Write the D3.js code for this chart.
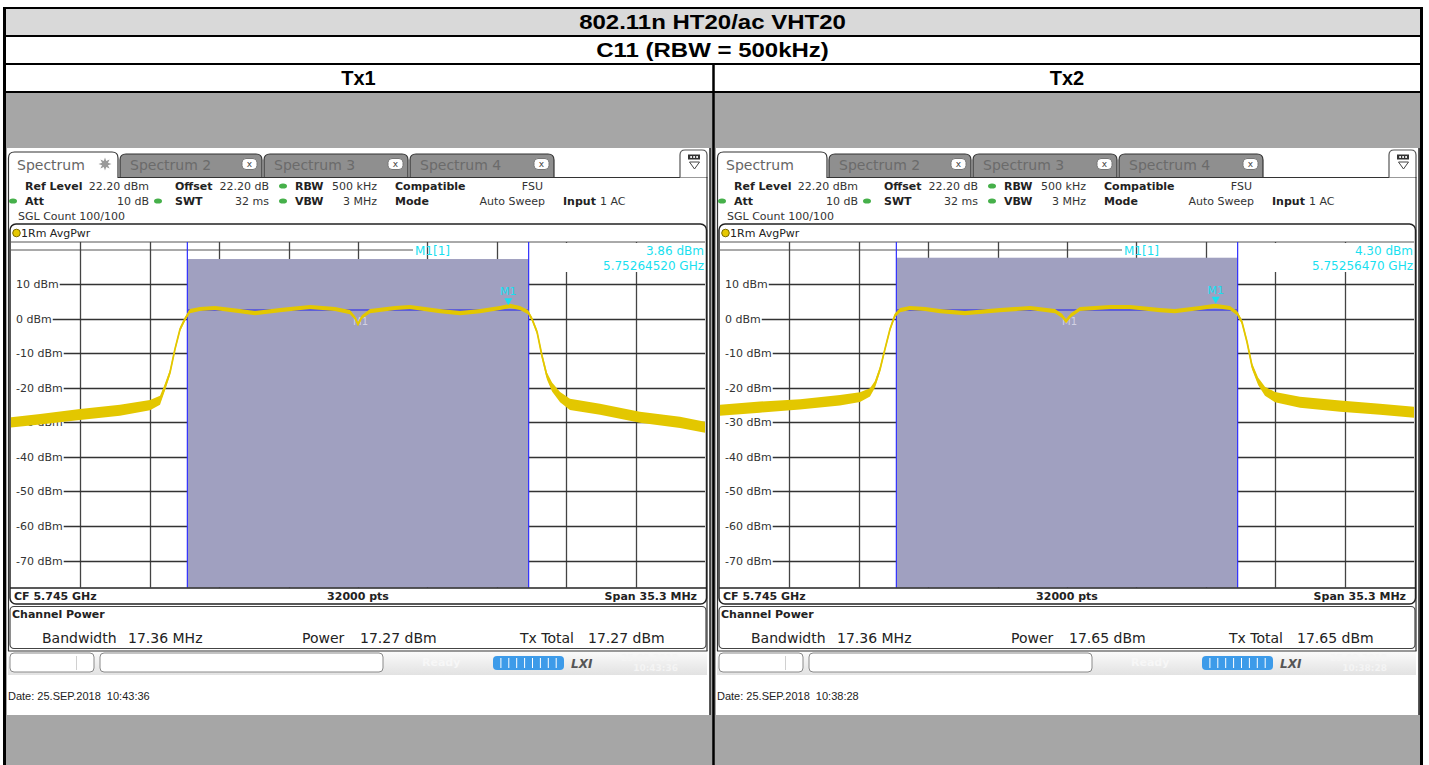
<!DOCTYPE html>
<html>
<head>
<meta charset="utf-8">
<script src="https://cdn.jsdelivr.net/npm/d3@7"></script>
<style>
body { margin: 0; background: #fff; }
svg { display: block; }
text { white-space: pre; }
</style>
</head>
<body>
<svg id="chart" width="1429" height="765"></svg>
<script>
// table headings
var title = "802.11n HT20/ac VHT20";
var subtitle = "C11 (RBW = 500kHz)";
var panelNames = ["Tx1", "Tx2"];

// analyzer settings
var refLevel = 22.2;      // dBm, top of grid
var spanMHz = 35.3;
var cfText = "CF 5.745 GHz";
var cfGHz = 5.745;
var chanBW = 17.36;       // MHz
var yTicks = [10, 0, -10, -20, -30, -40, -50, -60, -70];

// traces: offset from CF (MHz), level (dBm), noise half-width (dB)
var tx1Freq = [-17.65, -16.17, -14.14, -12.11, -10.58, -10.07, -9.82, -9.56, -9.31, -9.05, -8.80, -8.55, -8.04, -7.28, -6.00, -5.24, -3.97, -2.44, -1.17, -0.41, -0.15, 0.00, 0.20, 0.61, 1.88, 2.64, 4.17, 5.19, 6.21, 7.22, 7.73, 8.24, 8.65, 8.85, 9.11, 9.36, 9.61, 9.87, 10.28, 10.78, 12.31, 14.34, 16.38, 17.65];
var tx1Level = [-30.0, -29.1, -27.7, -26.5, -25.0, -23.6, -19.8, -15.5, -8.8, -3.0, -0.1, 2.2, 2.8, 3.1, 2.2, 1.6, 2.5, 3.4, 2.8, 1.9, 0.2, -1.6, 0.5, 2.2, 3.1, 3.4, 2.2, 1.6, 2.2, 3.1, 3.7, 3.1, 1.9, -0.1, -3.9, -10.8, -16.6, -19.8, -22.7, -24.8, -26.2, -28.5, -30.0, -31.4];
var tx1Spread = [1.5, 1.5, 1.6, 1.6, 1.5, 1.3, 1.0, 0.8, 0.6, 0.6, 0.6, 0.6, 0.6, 0.6, 0.6, 0.6, 0.6, 0.6, 0.6, 0.6, 0.5, 0.5, 0.5, 0.6, 0.6, 0.6, 0.6, 0.6, 0.6, 0.6, 0.6, 0.6, 0.6, 0.6, 0.7, 0.8, 1.0, 1.3, 1.5, 1.6, 1.6, 1.6, 1.6, 1.6];

var tx2Freq = [-17.65, -15.62, -13.58, -11.55, -10.53, -10.02, -9.77, -9.51, -9.26, -9.00, -8.75, -8.49, -7.99, -7.22, -6.46, -5.19, -3.41, -1.88, -0.61, -0.25, -0.05, 0.20, 0.66, 2.19, 3.20, 4.73, 5.49, 6.76, 7.53, 8.29, 8.65, 8.90, 9.16, 9.41, 9.72, 10.07, 10.58, 11.85, 13.89, 15.92, 17.65];
var tx2Level = [-26.5, -25.6, -24.8, -23.6, -22.7, -21.3, -19.0, -14.6, -8.8, -3.0, 1.0, 2.5, 3.1, 2.8, 2.2, 1.6, 2.5, 3.1, 2.2, 0.8, -0.7, 1.0, 2.8, 3.4, 3.4, 2.5, 2.2, 3.1, 3.7, 3.1, 1.6, -1.0, -6.8, -13.7, -18.1, -21.0, -22.7, -24.2, -25.3, -26.2, -27.1];
var tx2Spread = [1.6, 1.6, 1.5, 1.5, 1.4, 1.2, 1.0, 0.8, 0.6, 0.6, 0.6, 0.6, 0.6, 0.6, 0.6, 0.6, 0.6, 0.6, 0.6, 0.6, 0.6, 0.6, 0.6, 0.6, 0.6, 0.6, 0.6, 0.6, 0.6, 0.6, 0.6, 0.6, 0.7, 0.9, 1.1, 1.3, 1.5, 1.6, 1.6, 1.6, 1.6];

// marker and channel power results
var markerLevel = [3.86, 4.30];
var markerFreq = [5.75264520, 5.75256470];
var chanPower = [17.27, 17.65];
var txTotal = [17.27, 17.65];
var chanLevel = [2.5, 2.5];
var dateLine = ["Date: 25.SEP.2018  10:43:36", "Date: 25.SEP.2018  10:38:28"];
var statusDate = ["25.09.2018", "25.09.2018"];
var statusTime = ["10:43:36", "10:38:28"];

var FONT = "'DejaVu Sans', sans-serif";
var ARIAL = "'Liberation Sans', Arial, sans-serif";
var svg = d3.select("#chart");

// ---- outer table
svg.append("rect").attr("x", 4).attr("y", 8).attr("width", 1417).attr("height", 28).attr("fill", "#d9d9d9");
svg.append("rect").attr("x", 4).attr("y", 92).attr("width", 1417).attr("height", 673).attr("fill", "#a6a6a6");

// heading rows use a widened face
[[title, 29], [subtitle, 57]].forEach(function(h) {
    svg.append("text").attr("transform", "translate(712.5," + h[1] + ") scale(1.2,1)")
        .attr("text-anchor", "middle")
        .attr("font-family", ARIAL).attr("font-weight", "bold").attr("font-size", 20).text(h[0]);
});
svg.selectAll("text.tx").data(panelNames).enter().append("text")
    .attr("x", function(d, i) { return i == 0 ? 358.5 : 1067; })
    .attr("y", 85).attr("text-anchor", "middle")
    .attr("font-family", ARIAL).attr("font-weight", "bold").attr("font-size", 20)
    .text(function(d) { return d; });

var tl = svg.append("g").attr("stroke", "#000").attr("fill", "none");
tl.append("line").attr("x1", 3).attr("x2", 1423).attr("y1", 8).attr("y2", 8).attr("stroke-width", 2);
[36, 64, 92].forEach(function(yy) {
    tl.append("line").attr("x1", 3).attr("x2", 1423).attr("y1", yy).attr("y2", yy).attr("stroke-width", 2);
});
tl.append("line").attr("x1", 4.5).attr("x2", 4.5).attr("y1", 7).attr("y2", 765).attr("stroke-width", 3);
tl.append("line").attr("x1", 1421.5).attr("x2", 1421.5).attr("y1", 7).attr("y2", 765).attr("stroke-width", 3);
tl.append("line").attr("x1", 713.5).attr("x2", 713.5).attr("y1", 64).attr("y2", 765).attr("stroke-width", 2.5);

// ---- one analyzer screenshot
function tabPath(x0, x1, y0, y1, r) {
    return "M" + x0 + "," + y1 + "L" + x0 + "," + (y0 + r) + "Q" + x0 + "," + y0 + "," + (x0 + r) + "," + y0 +
        "L" + (x1 - r) + "," + y0 + "Q" + x1 + "," + y0 + "," + x1 + "," + (y0 + r) + "L" + x1 + "," + y1;
}

function drawPanel(i, freq, level, spread) {
    var ox = i == 0 ? 0 : 709;
    var g = svg.append("g").attr("transform", "translate(" + ox + ",0)")
        .attr("font-family", FONT);

    var GL = 11, GR = 705, GT = 242, GB = 587.5;
    var x = d3.scaleLinear().domain([-spanMHz / 2, spanMHz / 2]).range([GL, GR]);
    var y = d3.scaleLinear().domain([refLevel - 100, refLevel]).range([GB, GT]);

    g.append("rect").attr("x", 7).attr("y", 148).attr("width", 703).attr("height", 567).attr("fill", "#fff");
    g.append("line").attr("x1", 710).attr("x2", 710).attr("y1", 148).attr("y2", 715)
        .attr("stroke", "#222").attr("stroke-width", 1.5);

    // tabs
    var tabs = [[120, 262, "Spectrum 2"], [264, 408, "Spectrum 3"], [410, 554, "Spectrum 4"]];
    tabs.forEach(function(t) {
        g.append("path").attr("d", tabPath(t[0], t[1], 154, 177.5, 6))
            .attr("fill", "#8f8f8f").attr("stroke", "#333").attr("stroke-width", 1.2);
        g.append("text").attr("x", t[0] + 10).attr("y", 169.5).attr("font-size", 14)
            .attr("fill", "#6b6b6b").text(t[2]);
        var cx = t[1] - 12;
        g.append("rect").attr("x", cx - 8).attr("y", 158.5).attr("width", 15).attr("height", 11).attr("rx", 4)
            .attr("fill", "#fff").attr("stroke", "#777");
        g.append("text").attr("x", cx - 0.5).attr("y", 167).attr("text-anchor", "middle")
            .attr("font-size", 9).attr("fill", "#444").text("x");
    });
    g.append("line").attr("x1", 118).attr("x2", 707).attr("y1", 177.5).attr("y2", 177.5)
        .attr("stroke", "#333").attr("stroke-width", 1.2);
    g.append("path").attr("d", tabPath(8.5, 118, 152, 178, 6))
        .attr("fill", "#fff").attr("stroke", "#333").attr("stroke-width", 1.2);
    g.append("text").attr("x", 17).attr("y", 169.5).attr("font-size", 14).attr("fill", "#666").text("Spectrum");
    if (i == 0) {
        var star = d3.range(16).map(function(k) {
            var a = k * Math.PI / 8 - Math.PI / 2, r = k % 2 ? 3.2 : 6.5;
            return [105 + r * Math.cos(a), 164 + r * Math.sin(a)];
        });
        g.append("path").attr("d", "M" + star.join("L") + "Z").attr("fill", "#9a9a9a");
    }
    // settings icon box
    g.append("path").attr("d", "M680,177.5L680,155Q680,150,685,150L702,150Q707,150,707,155L707,177.5")
        .attr("fill", "#fff").attr("stroke", "#555").attr("stroke-width", 1.2);
    g.append("rect").attr("x", 688).attr("y", 154.5).attr("width", 12).attr("height", 5).attr("fill", "#333");
    [691, 694, 697].forEach(function(dx) {
        g.append("rect").attr("x", dx - 0.7).attr("y", 156).attr("width", 1.6).attr("height", 2).attr("fill", "#fff");
    });
    g.append("path").attr("d", "M689.5,162L699.5,162L694.5,169Z").attr("fill", "none").attr("stroke", "#444");

    // content outline
    g.append("line").attr("x1", 8.5).attr("x2", 8.5).attr("y1", 178).attr("y2", 651).attr("stroke", "#333").attr("stroke-width", 1.2);
    g.append("line").attr("x1", 707).attr("x2", 707).attr("y1", 177).attr("y2", 651).attr("stroke", "#333").attr("stroke-width", 1.2);
    g.append("line").attr("x1", 8).attr("x2", 707.5).attr("y1", 651).attr("y2", 651).attr("stroke", "#333").attr("stroke-width", 1.2);

    // settings text
    var labels = [[25, 190, "Ref Level"], [175, 190, "Offset"], [295, 190, "RBW"], [395, 190, "Compatible"],
                  [25, 205, "Att"], [175, 205, "SWT"], [295, 205, "VBW"], [395, 205, "Mode"], [563, 205, "Input"]];
    labels.forEach(function(l) {
        g.append("text").attr("x", l[0]).attr("y", l[1]).attr("font-size", 11).attr("font-weight", "bold")
            .attr("fill", "#222").text(l[2]);
    });
    var values = [[149, 190, "22.20 dBm"], [269, 190, "22.20 dB"], [377, 190, "500 kHz"], [543, 190, "FSU"],
                  [149, 205, "10 dB"], [269, 205, "32 ms"], [377, 205, "3 MHz"], [545, 205, "Auto Sweep"]];
    values.forEach(function(v) {
        g.append("text").attr("x", v[0]).attr("y", v[1]).attr("font-size", 11).attr("text-anchor", "end")
            .attr("fill", "#333").text(v[2]);
    });
    g.append("text").attr("x", 600).attr("y", 205).attr("font-size", 11).attr("fill", "#333").text("1 AC");
    g.append("text").attr("x", 18).attr("y", 220).attr("font-size", 11).attr("fill", "#333").text("SGL Count 100/100");
    [[283, 186], [13, 201], [158, 201], [283, 201]].forEach(function(p) {
        g.append("ellipse").attr("cx", p[0]).attr("cy", p[1]).attr("rx", 4).attr("ry", 2.6).attr("fill", "#46b04a");
    });

    // diagram frame
    g.append("rect").attr("x", 10).attr("y", 224).attr("width", 696.5).attr("height", 380).attr("rx", 6)
        .attr("fill", "#fff").attr("stroke", "#222").attr("stroke-width", 1.5);
    g.append("circle").attr("cx", 16.5).attr("cy", 233).attr("r", 3.8).attr("fill", "#e6c800").attr("stroke", "#7a6a00");
    g.append("text").attr("x", 21).attr("y", 237).attr("font-size", 11).attr("fill", "#222").text("1Rm AvgPwr");

    var grid = g.append("g");
    var shade = g.append("g");
    var top = g.append("g");

    grid.append("line").attr("x1", GL).attr("x2", GR).attr("y1", GT).attr("y2", GT).attr("stroke", "#555");
    grid.append("line").attr("x1", GL).attr("x2", 413).attr("y1", 250).attr("y2", 250).attr("stroke", "#555");
    var divs = d3.range(1, 10).map(function(k) { return -spanMHz / 2 + k * spanMHz / 10; });
    grid.selectAll("line.v").data(divs).enter().append("line")
        .attr("x1", function(d) { return Math.round(x(d)) + 0.5; })
        .attr("x2", function(d) { return Math.round(x(d)) + 0.5; })
        .attr("y1", GT).attr("y2", GB).attr("stroke", "#444").attr("stroke-width", 1.3);
    yTicks.forEach(function(v) {
        var t = grid.append("text").attr("x", 16).attr("y", y(v) + 4).attr("font-size", 11)
            .attr("fill", "#333").text(v + " dBm");
        var w = t.node().getComputedTextLength();
        grid.append("line").attr("x1", 16 + w + 1).attr("x2", GR)
            .attr("y1", Math.round(y(v)) + 0.5).attr("y2", Math.round(y(v)) + 0.5)
            .attr("stroke", "#333").attr("stroke-width", 1.3);
    });

    var chL = x(-chanBW / 2), chR = x(chanBW / 2);
    // marker readout area
    grid.append("rect").attr("x", chR + 1).attr("y", GT + 1).attr("width", GR - chR - 1).attr("height", 29).attr("fill", "#fff");

    shade.append("rect").attr("x", chL).attr("y", y(chanPower[i])).attr("width", chR - chL).attr("height", GB - y(chanPower[i]))
        .attr("fill", "#a0a0c0");
    shade.selectAll("line.ch").data([chL, chR]).enter().append("line")
        .attr("x1", function(d) { return d; }).attr("x2", function(d) { return d; })
        .attr("y1", GT).attr("y2", GB).attr("stroke", "#2f2fff").attr("stroke-width", 1.2);
    shade.append("line").attr("x1", chL).attr("x2", chR).attr("y1", y(chanLevel[i])).attr("y2", y(chanLevel[i]))
        .attr("stroke", "#4848e0").attr("stroke-width", 1.5);
    shade.append("text").attr("x", x(0) - 5).attr("y", y(-1.6) + 1).attr("font-size", 10)
        .attr("fill", "#d2d2e4").text("M1");

    // trace
    var pts = freq.map(function(f, k) { return { f: f, v: level[k], s: spread[k] }; });
    var area = d3.area().x(function(d) { return x(d.f); })
        .y0(function(d) { return y(d.v - d.s); }).y1(function(d) { return y(d.v + d.s); });
    var line = d3.line().x(function(d) { return x(d.f); }).y(function(d) { return y(d.v); });
    top.append("path").attr("d", area(pts)).attr("fill", "#e3c700");
    top.append("path").attr("d", line(pts)).attr("fill", "none").attr("stroke", "#e3c700").attr("stroke-width", 1.8);

    // marker
    var mx = x((markerFreq[i] - cfGHz) * 1000), my = y(markerLevel[i]);
    top.append("path").attr("d", "M" + (mx - 4) + "," + (my - 7) + "L" + (mx + 4) + "," + (my - 7) + "L" + mx + "," + my + "Z")
        .attr("fill", "#19dff0");
    top.append("text").attr("x", mx).attr("y", my - 10).attr("text-anchor", "middle").attr("font-size", 11)
        .attr("fill", "#19dff0").text("M1");
    top.append("text").attr("x", 415).attr("y", 255).attr("font-size", 12).attr("fill", "#19dff0").text("M1[1]");
    top.append("text").attr("x", GR - 1).attr("y", 255).attr("font-size", 12).attr("text-anchor", "end")
        .attr("fill", "#19dff0").text(markerLevel[i].toFixed(2) + " dBm");
    top.append("text").attr("x", GR - 1).attr("y", 270).attr("font-size", 12).attr("text-anchor", "end")
        .attr("fill", "#19dff0").text(markerFreq[i].toFixed(8) + " GHz");

    // footer of diagram
    top.append("line").attr("x1", 10).attr("x2", 706.5).attr("y1", GB + 0.5).attr("y2", GB + 0.5).attr("stroke", "#222").attr("stroke-width", 1.3);
    top.append("text").attr("x", 14).attr("y", 600).attr("font-size", 11).attr("font-weight", "bold").attr("fill", "#222").text(cfText);
    top.append("text").attr("x", x(0)).attr("y", 600).attr("font-size", 11).attr("font-weight", "bold")
        .attr("text-anchor", "middle").attr("fill", "#222").text("32000 pts");
    top.append("text").attr("x", 697).attr("y", 600).attr("font-size", 11).attr("font-weight", "bold")
        .attr("text-anchor", "end").attr("fill", "#222").text("Span " + spanMHz + " MHz");

    // channel power table
    g.append("rect").attr("x", 10).attr("y", 606.5).attr("width", 696).attr("height", 42).attr("rx", 4)
        .attr("fill", "#fff").attr("stroke", "#444").attr("stroke-width", 1.2);
    g.append("text").attr("x", 12).attr("y", 618).attr("font-size", 11).attr("font-weight", "bold").attr("fill", "#222").text("Channel Power");
    var cp = [[42, "Bandwidth"], [128, chanBW.toFixed(2) + " MHz"], [302, "Power"], [360, chanPower[i].toFixed(2) + " dBm"],
              [520, "Tx Total"], [588, txTotal[i].toFixed(2) + " dBm"]];
    cp.forEach(function(c) {
        g.append("text").attr("x", c[0]).attr("y", 643).attr("font-size", 14).attr("fill", "#222").text(c[1]);
    });

    // status bar
    var gid = "sb" + i;
    var grad = svg.append("defs").append("linearGradient").attr("id", gid).attr("x1", 0).attr("x2", 0).attr("y1", 0).attr("y2", 1);
    grad.append("stop").attr("offset", 0).attr("stop-color", "#fafafa");
    grad.append("stop").attr("offset", 1).attr("stop-color", "#e2e2e2");
    g.append("rect").attr("x", 8).attr("y", 652).attr("width", 699).attr("height", 23).attr("fill", "url(#" + gid + ")");
    g.append("rect").attr("x", 10).attr("y", 653).attr("width", 84).attr("height", 19).attr("rx", 4)
        .attr("fill", "#fff").attr("stroke", "#8a8a8a");
    g.append("line").attr("x1", 76.5).attr("x2", 76.5).attr("y1", 656).attr("y2", 670).attr("stroke", "#d0d0d0");
    g.append("rect").attr("x", 100).attr("y", 653).attr("width", 283).attr("height", 19).attr("rx", 4)
        .attr("fill", "#fff").attr("stroke", "#8a8a8a");
    g.append("text").attr("x", 422).attr("y", 666).attr("font-size", 11).attr("font-weight", "bold").attr("fill", "#f7f7f7").text("Ready");
    g.append("rect").attr("x", 493).attr("y", 656).attr("width", 71).attr("height", 14).attr("rx", 4).attr("fill", "#3d9be9");
    d3.range(1, 9).forEach(function(k) {
        g.append("line").attr("x1", 493 + k * 7.9).attr("x2", 493 + k * 7.9).attr("y1", 658).attr("y2", 668)
            .attr("stroke", "#fff").attr("stroke-width", 1);
    });
    g.append("text").attr("x", 571).attr("y", 668).attr("font-size", 12).attr("font-weight", "bold")
        .attr("font-style", "italic").attr("fill", "#555").text("LXI");
    g.append("text").attr("x", 678).attr("y", 661).attr("font-size", 9).attr("font-weight", "bold")
        .attr("text-anchor", "end").attr("fill", "#f4f4f4").text(statusDate[i]);
    g.append("text").attr("x", 678).attr("y", 671).attr("font-size", 9).attr("font-weight", "bold")
        .attr("text-anchor", "end").attr("fill", "#f4f4f4").text(statusTime[i]);

    g.append("text").attr("x", 8).attr("y", 700).attr("font-family", ARIAL).attr("font-size", 11)
        .attr("fill", "#222").text(dateLine[i]);
}

drawPanel(0, tx1Freq, tx1Level, tx1Spread);
drawPanel(1, tx2Freq, tx2Level, tx2Spread);
</script>
</body>
</html>
